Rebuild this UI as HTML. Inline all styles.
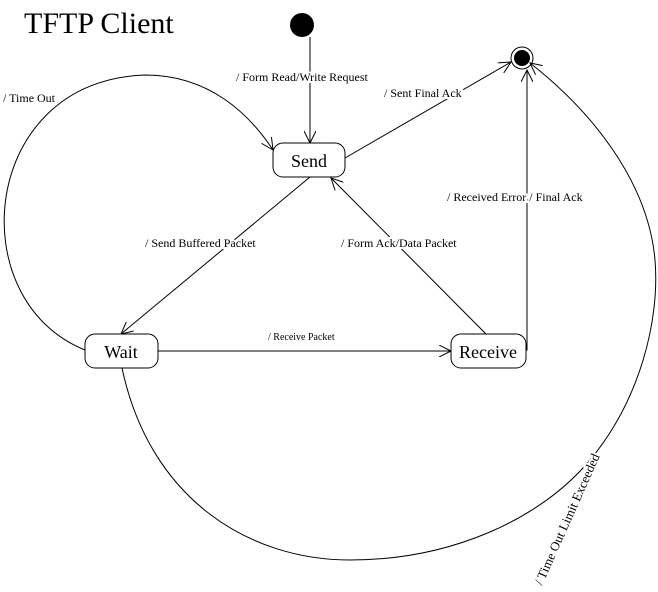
<!DOCTYPE html>
<html><head><style>body{margin:0;background:#fff}svg{display:block}text{font-family:"Liberation Serif","DejaVu Serif",serif;fill:#000}.l{stroke:#fff;stroke-width:4px;paint-order:stroke}</style></head>
<body>
<svg width="658" height="592" viewBox="0 0 658 592" xmlns="http://www.w3.org/2000/svg">
<defs><marker id="a" markerWidth="14" markerHeight="12" refX="12" refY="6" orient="auto" markerUnits="userSpaceOnUse"><path d="M0,0 L12,6 L0,12" fill="none" stroke="#000" stroke-width="1"/></marker></defs>
<text x="24" y="33" font-size="30">TFTP Client</text>
<circle cx="302" cy="25" r="12" fill="#000"/>
<circle cx="522" cy="58" r="11" fill="#fff" stroke="#000" stroke-width="1"/>
<circle cx="522" cy="58" r="8" fill="#000"/>
<g fill="none" stroke="#000" stroke-width="1">
<line x1="310" y1="37" x2="310" y2="143" marker-end="url(#a)"/>
<path d="M85,350 C -40,300 -20,80 145,75 C 210,75 250,115 273,150" marker-end="url(#a)"/>
<line x1="345" y1="158" x2="511" y2="62" marker-end="url(#a)"/>
<line x1="310" y1="177" x2="121" y2="334" marker-end="url(#a)"/>
<line x1="486" y1="334" x2="331" y2="178" marker-end="url(#a)"/>
<line x1="158" y1="351" x2="451" y2="351" marker-end="url(#a)"/>
<polyline points="526,350 527,350 527,70" marker-end="url(#a)"/>
<path d="M122,368 C150,500 250,560 350,560 C 450,560 540,520 590,460 C 640,400 660,320 655,260 C 648,180 590,110 530,63" marker-end="url(#a)"/>
<rect x="273" y="143" width="72" height="34" rx="10" fill="#fff"/>
<rect x="85" y="334" width="73" height="34" rx="10" fill="#fff"/>
<rect x="451" y="334" width="75" height="34" rx="10" fill="#fff"/>
</g>
<text x="309" y="167" font-size="18" text-anchor="middle">Send</text>
<text x="121" y="358" font-size="18" text-anchor="middle">Wait</text>
<text x="488" y="358" font-size="18" text-anchor="middle">Receive</text>
<g font-size="12">
<text class="l" x="236" y="81">/ Form Read/Write Request</text>
<text class="l" x="384" y="97">/ Sent Final Ack</text>
<text class="l" x="447" y="201">/ Received Error / Final Ack</text>
<text class="l" x="145" y="247">/ Send Buffered Packet</text>
<text class="l" x="341" y="247">/ Form Ack/Data Packet</text>
<text class="l" x="3" y="102">/ Time Out</text>
<text x="268" y="340" font-size="10">/ Receive Packet</text>
<text class="l" x="0" y="0" font-size="13" transform="translate(542,586) rotate(-66)">/ Time Out Limit Exceeded</text>
</g>
</svg>
</body></html>
